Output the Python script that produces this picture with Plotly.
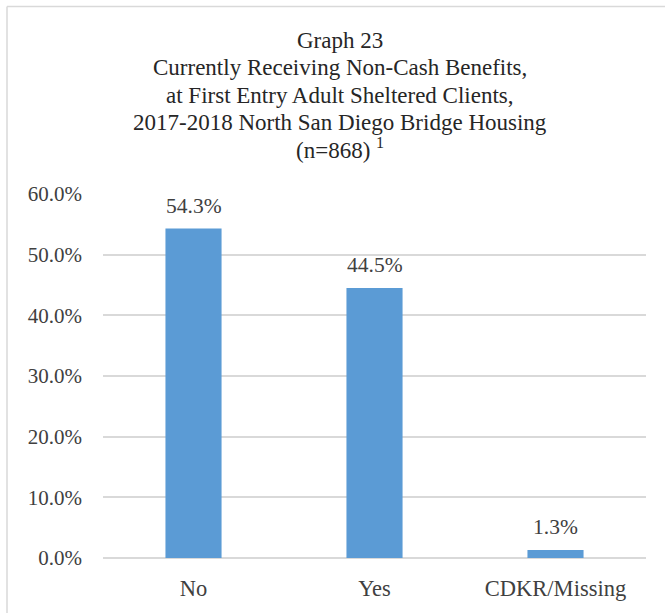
import plotly.graph_objects as go

categories = ["No", "Yes", "CDKR/Missing"]
values = [54.3, 44.5, 1.3]
y_ticks = [0, 10, 20, 30, 40, 50, 60]
y_tick_labels = ["0.0%", "10.0%", "20.0%", "30.0%", "40.0%", "50.0%", "60.0%"]
title_lines = [
    "Graph 23",
    "Currently Receiving Non-Cash Benefits,",
    "at First Entry Adult Sheltered Clients,",
    "2017-2018 North San Diego Bridge Housing",
    "(n=868) <sup>1</sup>",
]

W, H = 665, 613
L, R, T, B = 103, 19, 194, 55
pw, ph = W - L - R, H - T - B

serif = "Liberation Serif"


def py(pix):
    """Convert a page pixel row to paper y."""
    return (H - B - pix) / ph


def px(pix):
    """Convert a page pixel column to paper x."""
    return (pix - L) / pw


fig = go.Figure(
    go.Bar(
        x=categories,
        y=values,
        marker=dict(color="#5B9BD5", line=dict(width=0)),
        width=0.31,
        hoverinfo="skip",
    )
)

# value labels above each bar
for cat, v in zip(categories, values):
    fig.add_annotation(
        x=cat, y=v, xref="x", yref="y",
        text=f"{v:.1f}%",
        showarrow=False,
        yanchor="middle",
        yshift=23,
        font=dict(family=serif, size=21.5, color="#404040"),
    )

# title, one line per annotation with ~27px spacing
title_rows = [41, 68, 95, 122, 148]
for line, row in zip(title_lines, title_rows):
    fig.add_annotation(
        x=px(340), y=py(row), xref="paper", yref="paper",
        text=line,
        showarrow=False,
        xanchor="center",
        yanchor="middle",
        font=dict(family=serif, size=23, color="#262626"),
    )

# chart frame: top and left edges (others fall outside the page)
fx0 = px(7)
fx1 = px(W + 5)
fy_top = py(6.5)
fy_bot = py(H + 5)

fig.update_layout(
    width=W,
    height=H,
    margin=dict(l=L, r=R, t=T, b=B),
    paper_bgcolor="white",
    plot_bgcolor="white",
    showlegend=False,
    bargap=0.69,
    font=dict(family=serif, color="#404040"),
    xaxis=dict(
        showgrid=False,
        showline=False,
        ticks="",
        tickfont=dict(family=serif, size=22.5, color="#404040"),
        ticklabelstandoff=14,
    ),
    yaxis=dict(
        range=[0, 60],
        tickvals=y_ticks,
        ticktext=y_tick_labels,
        showgrid=True,
        gridcolor="#D9D9D9",
        gridwidth=1.5,
        zeroline=True,
        zerolinecolor="#D9D9D9",
        zerolinewidth=1.5,
        ticks="",
        ticklen=0,
        tickfont=dict(family=serif, size=21, color="#404040"),
        ticklabelstandoff=20,
    ),
    shapes=[
        dict(type="line", xref="paper", yref="paper", x0=fx0, x1=fx1, y0=fy_top, y1=fy_top,
             line=dict(color="#D9D9D9", width=1.5)),
        dict(type="line", xref="paper", yref="paper", x0=fx0, x1=fx0, y0=fy_top, y1=fy_bot,
             line=dict(color="#D9D9D9", width=1.5)),
    ],
)

fig.write_html("out.html")
